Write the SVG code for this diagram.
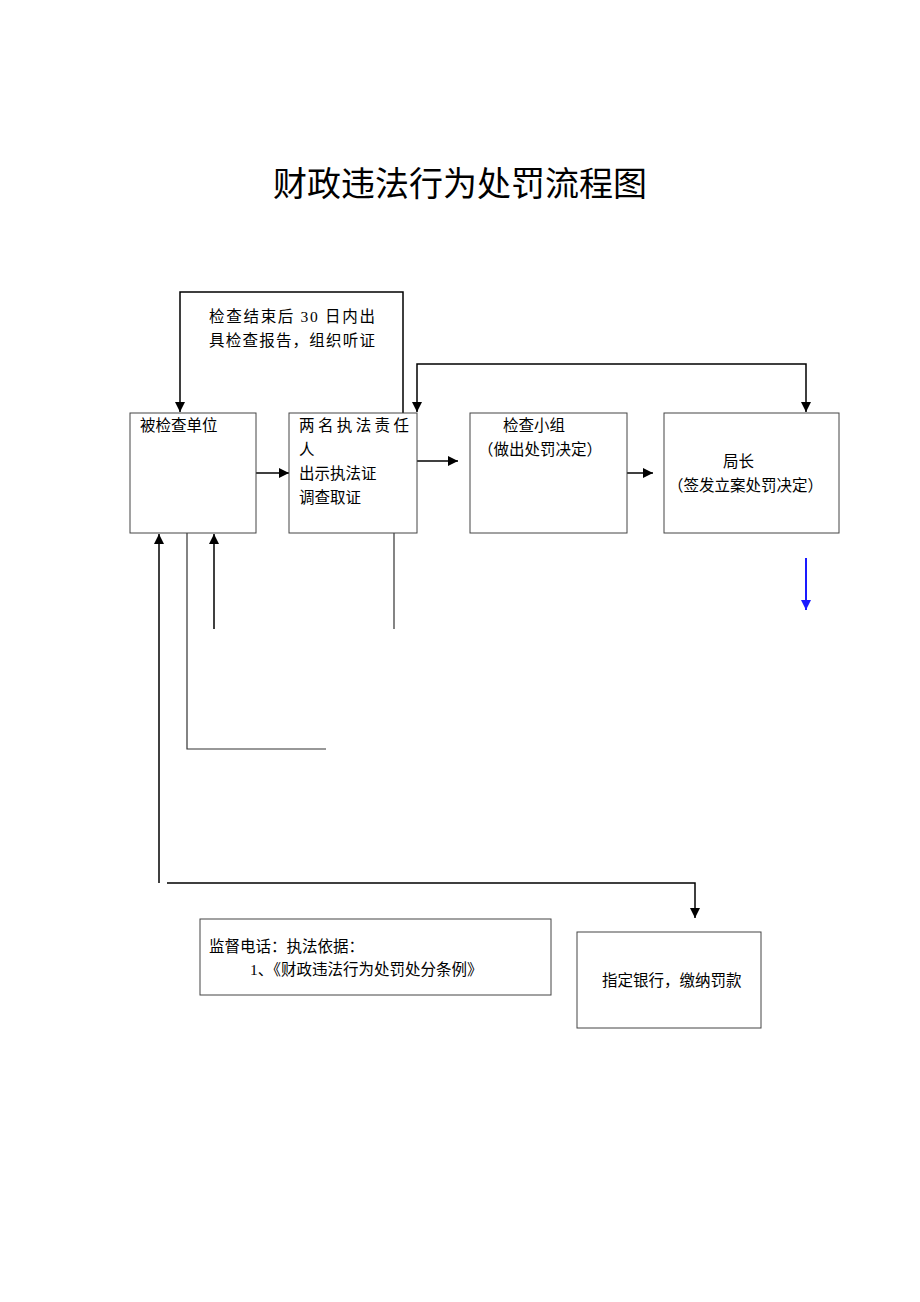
<svg xmlns="http://www.w3.org/2000/svg" width="920" height="1302" viewBox="0 0 920 1302">
<style>
text{font-family:"Liberation Serif","Noto Sans CJK SC",serif;fill:#000;font-size:15.5px}
.title{font-size:34px}
.box{fill:#fff;stroke:#444;stroke-width:1}
.c{fill:none;stroke:#000;stroke-width:1.5}
.g{fill:none;stroke:#333;stroke-width:1.2}
.b{fill:none;stroke:#1a1aff;stroke-width:2}
</style>
<defs>
<marker id="ah" viewBox="0 0 10 10" refX="10" refY="5" markerWidth="10" markerHeight="10" markerUnits="userSpaceOnUse" orient="auto-start-reverse"><path d="M0,0 L10,5 L0,10 z" fill="#000"/></marker>
<marker id="ahb" viewBox="0 0 10 10" refX="10" refY="5" markerWidth="10" markerHeight="10" markerUnits="userSpaceOnUse" orient="auto"><path d="M0,0 L10,5 L0,10 z" fill="#1a1aff"/></marker>
</defs>
<rect width="920" height="1302" fill="#fff"/>
<text class="title" x="460" y="196" text-anchor="middle">财政违法行为处罚流程图</text>

<g id="connectors">
<path class="c" d="M403,413 V292 H180 V412" marker-end="url(#ah)"/>
<path class="c" d="M417,412 V364 H806 V412" marker-start="url(#ah)" marker-end="url(#ah)"/>
<path class="c" d="M256,473 H289" marker-end="url(#ah)"/>
<path class="c" d="M417,461 H458" marker-end="url(#ah)"/>
<path class="c" d="M627,473 H653" marker-end="url(#ah)"/>
<path class="b" d="M806,558 V610" marker-end="url(#ahb)"/>
<path class="c" d="M159,883 V534" marker-end="url(#ah)"/>
<path class="g" d="M187,533 V749 H326"/>
<path class="c" d="M214,629 V534" marker-end="url(#ah)"/>
<path class="g" d="M394,533 V629"/>
<path class="c" d="M167,883 H695 V918" marker-end="url(#ah)"/>
<text x="209" y="322" textLength="166" lengthAdjust="spacing">检查结束后 30 日内出</text>
<text x="209" y="346" textLength="166" lengthAdjust="spacing">具检查报告，组织听证</text>
</g>

<g id="node-unit">
<rect class="box" x="130" y="413" width="126" height="120"/>
<text x="140" y="431">被检查单位</text>
</g>
<g id="node-officers">
<rect class="box" x="289" y="413" width="128" height="120"/>
<text x="299" y="431" textLength="110" lengthAdjust="spacing">两名执法责任</text>
<text x="299" y="455">人</text>
<text x="299" y="479">出示执法证</text>
<text x="299" y="503">调查取证</text>
</g>
<g id="node-group">
<rect class="box" x="470" y="413" width="157" height="120"/>
<text x="503" y="431">检查小组</text>
<text x="478" y="455">（做出处罚决定）</text>
</g>
<g id="node-director">
<rect class="box" x="664" y="413" width="175" height="120"/>
<text x="723" y="467">局长</text>
<text x="668" y="491">（签发立案处罚决定）</text>
</g>
<g id="node-supervision">
<rect class="box" x="200" y="919" width="351" height="76"/>
<text x="209" y="952">监督电话：执法依据：</text>
<text x="250" y="975">1、《财政违法行为处罚处分条例》</text>
</g>
<g id="node-bank">
<rect class="box" x="577" y="932" width="184" height="96"/>
<text x="602" y="986">指定银行，缴纳罚款</text>
</g>
</svg>
